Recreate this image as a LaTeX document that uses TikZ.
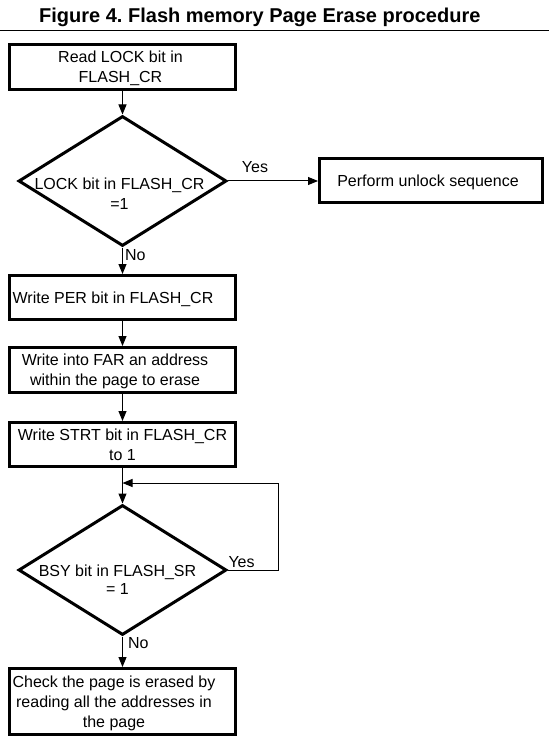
\documentclass[tikz,border=0pt]{standalone}
\usepackage{fontspec}
\setmainfont{Liberation Sans}
\frenchspacing
\usetikzlibrary{shapes.geometric,arrows.meta}
\newcommand{\tx}[2][0pt]{\makebox[0pt]{\kern#1\raisebox{-1.5pt}[\height][\depth]{\begin{tabular}{@{}c@{}}#2\end{tabular}}\kern-#1}}
\tikzset{
  box/.style={draw, line width=3pt, minimum width=226pt, inner sep=0pt, font=\fontsize{16}{20}\selectfont},
  dia/.style={draw, diamond, line width=3pt, minimum width=208pt, minimum height=130pt, inner sep=0pt},
  txt/.style={inner sep=0pt, font=\fontsize{16}{20}\selectfont, align=center},
  conn/.style={line width=1pt, -{Triangle[length=10pt,width=8pt]}},
  lbl/.style={inner sep=0pt, font=\fontsize{16}{20}\selectfont},
}
\begin{document}
\begin{tikzpicture}[x=1pt,y=-1pt]
\useasboundingbox (0,0) rectangle (549,743);
\node[anchor=base west, inner sep=0pt, font=\bfseries\fontsize{20}{24}\selectfont] (title) at (39,22.5) {Figure 4. Flash memory Page Erase procedure};
\draw[line width=1pt] (0,30.5) -- (549,30.5);

\node[box, minimum height=45pt] (b1) at (122.5,67) {\tx[-2pt]{Read LOCK bit in\\FLASH\_CR}};
\node[dia] (d1) at (122.5,181) {};
\node[txt] (d1t) at (119.5,194) {LOCK bit in FLASH\_CR\\=1};
\node[box, minimum width=223pt, minimum height=44pt] (b2) at (431,181) {\tx[-3pt]{Perform unlock sequence}};
\node[box, minimum height=44pt] (b3) at (122.5,297.5) {\tx[-9.5pt]{Write PER bit in FLASH\_CR}};
\node[box, minimum height=45pt] (b4) at (122.5,370) {\tx[-7.5pt]{Write into FAR an address\\within the page to erase}};
\node[box, minimum height=44pt] (b5) at (122.5,444.5) {\tx{Write STRT bit in FLASH\_CR\\to 1}};
\node[dia] (d2) at (122.5,570) {};
\node[txt] (d2t) at (117.5,580) {BSY bit in FLASH\_SR\\[-2pt]= 1};
\node[box, minimum height=66pt] (b6) at (122.5,701.5) {\tx[-8.5pt]{Check the page is erased by\\reading all the addresses in\\the page}};

\coordinate (lr) at (278,483);
\coordinate (lp) at (122.5,483);

\draw[conn] (b1.south) -- (d1.north);
\draw[conn] (d1.east) -- node[lbl, pos=0.3, above=8pt]{Yes} (b2.west);
\draw[conn] (d1.south) -- node[lbl, pos=0.28, anchor=west, xshift=2pt]{No} (b3.north);
\draw[conn] (b3.south) -- (b4.north);
\draw[conn] (b4.south) -- (b5.north);
\draw[conn] (b5.south) -- (d2.north);
\draw[conn] (d2.east) node[lbl, anchor=south west, yshift=1.5pt]{Yes} -| (lr) -- (lp);
\draw[conn] (d2.south) -- node[lbl, pos=0.21, anchor=west, xshift=5pt]{No} (b6.north);
\end{tikzpicture}
\end{document}
